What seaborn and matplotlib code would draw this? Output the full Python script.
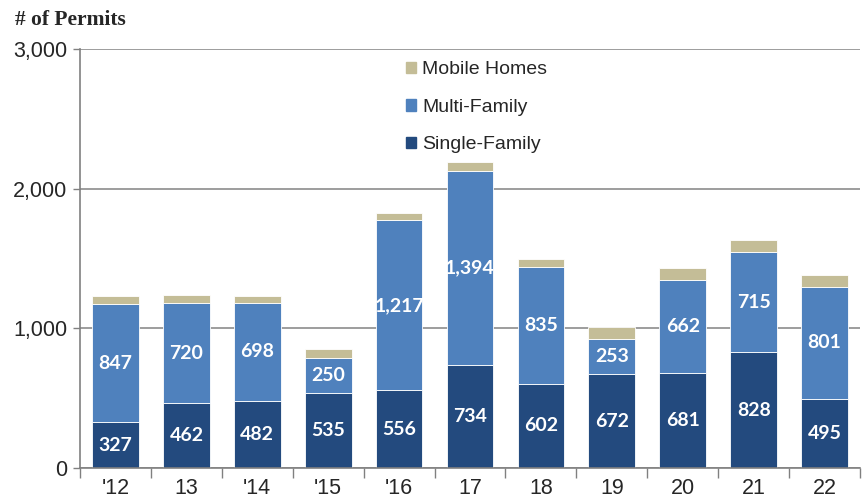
import matplotlib.pyplot as plt
import matplotlib.patches as mpatches
import pandas as pd
import seaborn as sns
import numpy as np

years = ["'12", "13", "'14", "'15", "'16", "17", "18", "19", "20", "21", "22"]
single_family = [327, 462, 482, 535, 556, 734, 602, 672, 681, 828, 495]
multi_family = [847, 720, 698, 250, 1217, 1394, 835, 253, 662, 715, 801]
mobile_homes = [55, 57, 55, 70, 55, 60, 62, 85, 90, 92, 85]

c_single = '#234A7E'
c_multi = '#4F81BD'
c_mobile = '#C4BD97'

df = pd.DataFrame({'year': years, 'single': single_family,
                   'multi': multi_family, 'mobile': mobile_homes})
df['multi_bottom'] = df.single
df['mobile_bottom'] = df.single + df.multi

sns.set_style('white')
plt.rcParams['font.family'] = ['Liberation Sans', 'DejaVu Sans']

fig = plt.figure(figsize=(8.66, 5.0), dpi=100)
ax = fig.add_axes([80/866, 32/500, 780/866, 419/500])

w = 0.66
sns.barplot(data=df, x='year', y='single', color=c_single, width=w,
            saturation=1, ax=ax, edgecolor='white', linewidth=0.6)
sns.barplot(data=df, x='year', y='multi', bottom=df.multi_bottom, color=c_multi,
            width=w, saturation=1, ax=ax, edgecolor='white', linewidth=0.6)
sns.barplot(data=df, x='year', y='mobile', bottom=df.mobile_bottom, color=c_mobile,
            width=w, saturation=1, ax=ax, edgecolor='white', linewidth=0.6)

# value labels
lab_kw = dict(ha='center', va='center', color='white', fontsize=14,
              fontweight='bold', family=['Lato', 'DejaVu Sans'])
for i in range(len(years)):
    ax.text(i, single_family[i] / 2, f'{single_family[i]:,}', **lab_kw)
    ax.text(i, single_family[i] + multi_family[i] / 2, f'{multi_family[i]:,}', **lab_kw)

ax.set_ylim(0, 3000)
ax.set_xlim(-0.5, len(years) - 0.5)
ax.set_yticks([0, 1000, 2000, 3000])
ax.set_yticklabels(['0', '1,000', '2,000', '3,000'], fontsize=15.5)
ax.set_xticks(range(len(years)))
ax.set_xticklabels(years, fontsize=15.5)
ax.set_xlabel('')
ax.set_ylabel('')
ax.tick_params(axis='x', length=0, pad=7)
ax.tick_params(axis='y', length=5, width=1, color='#808080', left=True, pad=4)

# category boundary ticks below the axis
ax.set_xticks(np.arange(-0.5, len(years)), minor=True)
ax.tick_params(axis='x', which='minor', length=7, width=1, color='#808080', bottom=True)

ax.grid(axis='y', color='#8C8C8C', linewidth=1.2)
ax.set_axisbelow(True)
for s in ['top', 'right']:
    ax.spines[s].set_visible(False)
ax.spines['left'].set_color('#808080')
ax.spines['bottom'].set_color('#808080')
ax.spines['left'].set_linewidth(1.2)
ax.spines['bottom'].set_linewidth(1.2)

handles = [mpatches.Patch(color=c_mobile, label='Mobile Homes'),
           mpatches.Patch(color=c_multi, label='Multi-Family'),
           mpatches.Patch(color=c_single, label='Single-Family')]
fig.legend(handles=handles, loc='upper left', bbox_to_anchor=(388/866, 1 - 44/500),
           frameon=False, fontsize=14, handlelength=0.55, handleheight=0.55,
           handletextpad=0.3, labelspacing=1.05)

fig.text(15/866, 1 - 20/500, '# of Permits', fontsize=15.5, fontweight='bold',
         family=['Liberation Serif', 'DejaVu Serif'], va='center', ha='left')

fig.savefig('out.png', dpi=100)
